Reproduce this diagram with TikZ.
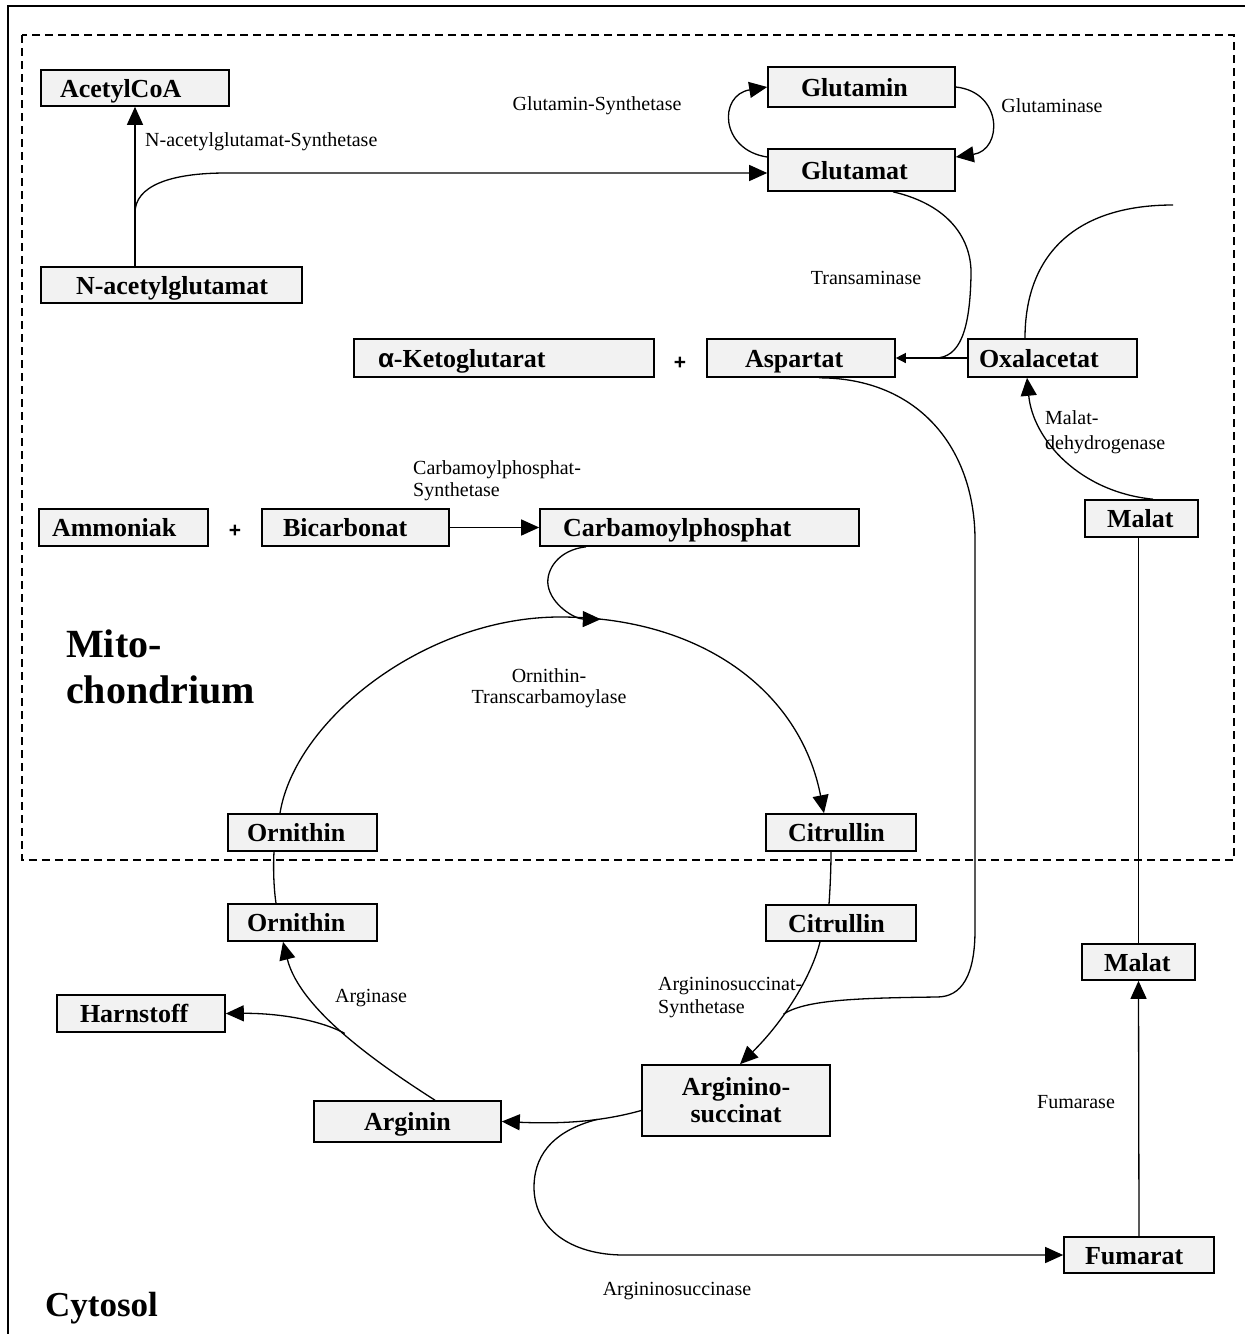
\documentclass[tikz,border=0pt]{standalone}
\usepackage{fontspec}
\setmainfont{Liberation Serif}
\newfontfamily\sansf{Liberation Sans}
\usetikzlibrary{arrows.meta,calc}
\definecolor{boxgray}{HTML}{F2F2F2}
\begin{document}
\begin{tikzpicture}[x=1pt,y=-1pt,
  box/.style={draw, fill=boxgray, line width=1.6pt, inner ysep=0pt, align=left,
    minimum height=37pt, text height=21pt, text depth=3pt,
    font=\fontsize{26}{30}\selectfont\bfseries},
  lbl/.style={inner sep=0pt, align=left, font=\fontsize{20}{23}\selectfont},
  conn/.style={line width=1.3pt},
  arr/.style={conn, -{Triangle[length=18pt,width=16pt]}},
  arrsmall/.style={conn, -{Triangle[length=10pt,width=10pt]}}
]
\useasboundingbox (0,0) rectangle (1245,1334);
% frames
\draw[line width=2pt] (8,1334) -- (8,6) -- (1245,6);
\draw[line width=1.3pt, dash pattern=on 8pt off 5pt] (22,35) rectangle (1234,860);

% boxes
\node[box, text width=150pt, inner xsep=19pt, minimum height=36pt] (acetyl) at (135,88) {\mbox{AcetylCoA}};
\node[box, text width=191pt, inner xsep=35pt, minimum height=36pt] (nag) at (171.5,285) {\mbox{N-acetylglutamat}};
\node[box, text width=121pt, inner xsep=33pt, minimum height=40pt] (glutamin) at (861.5,87) {\mbox{Glutamin}};
\node[box, text width=121pt, inner xsep=33pt, minimum height=42pt] (glutamat) at (861.5,170) {\mbox{Glutamat}};
\node[box, text width=252pt, inner xsep=24pt, minimum height=38pt] (aketo) at (504,358) {\mbox{{\sansf\bfseries α}-Ketoglutarat}};
\node[box, text width=112pt, inner xsep=38pt, minimum height=38pt] (aspartat) at (801,358) {\mbox{Aspartat}};
\node[box, text width=147pt, inner xsep=11pt, minimum height=38pt] (oxal) at (1052.5,358) {\mbox{Oxalacetat}};
\node[box, text width=143pt, inner xsep=13pt] (ammoniak) at (123.5,527.5) {\mbox{Ammoniak}};
\node[box, text width=145pt, inner xsep=21pt] (bicarb) at (355.5,527.5) {\mbox{Bicarbonat}};
\node[box, text width=273pt, inner xsep=23pt] (carbp) at (699.5,527.5) {\mbox{Carbamoylphosphat}};
\node[box, text width=69pt, inner xsep=22pt] (malatU) at (1141.5,518.5) {\mbox{Malat}};
\node[box, text width=111pt, inner xsep=19pt] (ornU) at (302.5,832.5) {\mbox{Ornithin}};
\node[box, text width=106pt, inner xsep=22pt] (citU) at (841,832.5) {\mbox{Citrullin}};
\node[box, text width=111pt, inner xsep=19pt] (ornL) at (302.5,922.5) {\mbox{Ornithin}};
\node[box, text width=106pt, inner xsep=22pt, minimum height=36pt] (citL) at (841,923) {\mbox{Citrullin}};
\node[box, text width=69pt, inner xsep=22pt, minimum height=36pt] (malatL) at (1138.5,962) {\mbox{Malat}};
\node[box, text width=122pt, inner xsep=23pt] (harn) at (141,1013.5) {\mbox{Harnstoff}};
\node[box, align=center, text width=177pt, inner xsep=5pt, minimum height=41pt] (arginin) at (407.5,1121.5) {Arginin};
\node[box, align=center, text width=178pt, inner xsep=5pt, minimum height=71pt,
      text height={}, text depth={},
      font=\fontsize{26}{27}\selectfont\bfseries] (argsucc) at (736,1100.5) {\rule{0pt}{6pt}Arginino-\\succinat};
\node[box, text width=108pt, inner xsep=21pt, minimum height=36pt] (fumarat) at (1139,1255) {\mbox{Fumarat}};

% plus signs
\node[font=\sansf\bfseries\fontsize{21}{21}\selectfont] (plus1) at (235,531) {+};
\node[font=\sansf\bfseries\fontsize{21}{21}\selectfont] (plus2) at (680,363) {+};

% compartment labels
\node[anchor=west, align=left, inner sep=0pt, font=\fontsize{40}{46}\selectfont\bfseries] (mito) at (66,667) {Mito-\\chondrium};
\node[anchor=base west, inner sep=0pt, font=\fontsize{35}{40}\selectfont\bfseries] (cyto) at (45,1316) {Cytosol};

% enzyme labels
\node[lbl, anchor=west] (lNAGS) at (145,142) {N-acetylglutamat-Synthetase};
\node[lbl] (lGS) at (597,106) {Glutamin-Synthetase};
\node[lbl] (lGase) at (1052,106) {Glutaminase};
\node[lbl] (lTA) at (866,278) {Transaminase};
\node[lbl, anchor=west, font=\fontsize{20}{25}\selectfont] (lMDH) at (1045,432) {Malat-\\dehydrogenase};
\node[lbl, anchor=west, font=\fontsize{20}{22}\selectfont] (lCPS) at (413,481) {Carbamoylphosphat-\\Synthetase};
\node[lbl, align=center, font=\fontsize{20}{21}\selectfont] (lOTC) at (549,688) {Ornithin-\\Transcarbamoylase};
\node[lbl, anchor=west] (lASS) at (658,998) {Argininosuccinat-\\Synthetase};
\node[lbl] (lArg) at (371,998) {Arginase};
\node[lbl] (lFum) at (1076,1102) {Fumarase};
\node[lbl] (lASL) at (677,1291) {Argininosuccinase};

% connectors
\draw[arr] (nag.north -| acetyl.south) -- coordinate[pos=0.335] (j1) (acetyl.south);
\draw[arr] (j1) .. controls (135,186) and (170,173) .. (226,173) -- ([yshift=-3pt]glutamat.west);
\draw[arr] ([yshift=13pt]glutamat.west) .. controls (720,150) and (718,95) .. (glutamin.west);
\draw[arr] (glutamin.east) .. controls (1003,92) and (1003,150) .. ([yshift=13pt]glutamat.east);

\draw[arrsmall] (oxal.west) -- coordinate[pos=0.45] (j2) (aspartat.east);
\draw[conn] ([xshift=31.5pt]glutamat.south) .. controls (950,205) and (972,240) .. (971,275)
  .. controls (970,330) and (960,358) .. (j2);

\coordinate (oxfree) at (1173,205);
\draw[conn] ([xshift=-27.5pt]oxal.north) .. controls (1025,255) and (1075,205) .. (oxfree);
\draw[arr] ([xshift=11.5pt]malatU.north) .. controls (1080,492) and (1033,440) .. ([xshift=-25.5pt]oxal.south);

\draw[arr] (bicarb.east) -- (carbp.west);

% urea cycle arc
\draw[arr] ([xshift=-22.5pt]ornU.north) .. controls (295,720) and (425,617) .. (560,617)
  .. controls (700,617) and (800,690) .. coordinate[pos=0.1] (cyc) ([xshift=-17pt]citU.north);
\draw[arr] ([xshift=-113.5pt]carbp.south) .. controls (558,550) and (546,570) .. (548,585)
  .. controls (551,605) and (575,619) .. (cyc);

\draw[conn] ([xshift=-28.5pt]ornU.south) .. controls (273,870) and (274,890) .. ([xshift=-26.5pt]ornL.north);
\draw[conn] ([xshift=-10pt]citU.south) .. controls (831,870) and (830,890) .. ([xshift=-12pt]citL.north);

\draw[arr] ([xshift=-21pt]citL.south) .. controls (812,975) and (785,1020) .. coordinate[pos=0.62] (j3) ([xshift=4pt]argsucc.north);
\draw[conn] ([xshift=18pt]aspartat.south) .. controls (920,378) and (975,450) .. (975,540) -- (975,930)
  .. controls (975,975) and (962,997) .. (937,997) .. controls (855,998) and (805,1000) .. (j3);

\draw[arr] ([xshift=27.5pt]arginin.north) .. controls (380,1065) and (300,1010) .. coordinate[pos=0.5] (j4) ([xshift=-19.5pt]ornL.south);
\draw[arr] (j4) .. controls (318,1019) and (275,1013) .. (harn.east);

\draw[arr] ([yshift=-10pt]argsucc.west) .. controls (600,1122) and (560,1124) .. coordinate[pos=0.35] (j5) (arginin.east);
\draw[arr] (j5) .. controls (548,1132) and (534,1160) .. (534,1187) .. controls (534,1228) and (570,1255) .. (624,1255) -- (fumarat.west);

\draw[arr] (fumarat.north) -- (malatL.south);
\draw[conn] (malatL.north |- malatU.south) -- (malatL.north);
\end{tikzpicture}
\end{document}
